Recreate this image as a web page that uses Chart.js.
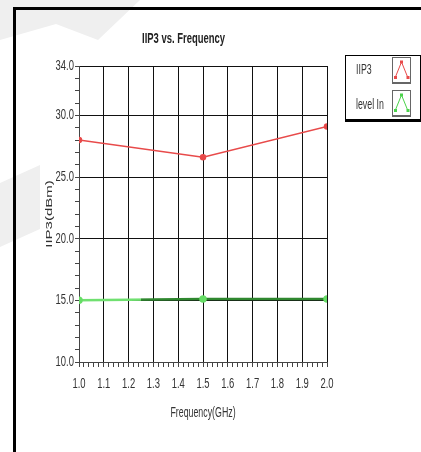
<!DOCTYPE html>
<html>
<head>
<meta charset="utf-8">
<script src="https://cdn.jsdelivr.net/npm/chart.js@4/dist/chart.umd.min.js"></script>
<style>
  html, body { margin: 0; padding: 0; background: #fff; overflow: hidden; }
  #wrap { position: relative; width: 421px; height: 452px; }
  .wm { position: absolute; background: #efefef; }
  #frame { position: absolute; left: 13px; top: 7px; width: 430px; height: 460px;
           border: 3px solid #000; box-sizing: border-box; }
  canvas { position: absolute; left: 0; top: 0; }
  #legend { position: absolute; left: 345px; top: 55px; width: 76px; height: 67px;
            border: 1px solid #000; border-bottom-width: 3px; box-sizing: border-box; background: #fff;
            font: 14px "Liberation Sans", Arial, sans-serif; color: #333; }
  .item { position: absolute; left: 10px; transform: scaleX(0.63); transform-origin: 0 0;
          white-space: nowrap; filter: grayscale(1); }
  .icon { position: absolute; left: 46px; width: 19px; height: 27px; border: 1px solid #666;
          border-bottom-width: 2px; box-sizing: border-box; }
</style>
</head>
<body>
<div id="wrap">
  <div class="wm" style="left:0;top:0;width:140px;height:40px;clip-path:polygon(0 0,100% 0,70% 100%,40% 60%,0 100%);"></div>
  <div class="wm" style="left:0;top:165px;width:40px;height:82px;clip-path:polygon(0 22%,100% 0,100% 78%,0 100%);"></div>
  <div id="frame"></div>
  <canvas id="iip3Chart" width="421" height="452"></canvas>
  <div id="legend">
    <div class="item" style="top:5px;">IIP3</div>
    <div class="icon" style="top:1px;">
      <svg width="17" height="24"><polyline points="2,20 8.5,4 15,20" fill="none" stroke="#e84a4a" stroke-width="1"/>
        <rect x="1" y="18" width="3" height="3" fill="#e84a4a"/><rect x="7" y="2.5" width="3" height="3" fill="#e84a4a"/><rect x="13.5" y="18" width="3" height="3" fill="#e84a4a"/></svg>
    </div>
    <div class="item" style="top:40px;">level In</div>
    <div class="icon" style="top:34px;">
      <svg width="17" height="24"><polyline points="2,20 8.5,4 15,20" fill="none" stroke="#4ad24a" stroke-width="1"/>
        <rect x="1" y="18" width="3" height="3" fill="#4ad24a"/><rect x="7" y="2.5" width="3" height="3" fill="#4ad24a"/><rect x="13.5" y="18" width="3" height="3" fill="#4ad24a"/></svg>
    </div>
  </div>
</div>
<script>
// data
const freqGHz = [1.0, 1.5, 2.0];
const iip3 = [28.0, 26.6, 29.1];
const levelIn = [15.0, 15.1, 15.1];
const yTickLabels = [10, 15, 20, 25, 30, 34];
const yGridLines = [15, 20, 25, 30, 34];

const sans = '"Liberation Sans", Arial, sans-serif';
const squash = 0.63;   // the original text is squeezed sideways

function toPoints(ys) {
    return freqGHz.map((x, i) => ({ x: x, y: ys[i] }));
}

// level In line turns dark green past 1.25 GHz
function greenStroke(context) {
    const chart = context.chart;
    const area = chart.chartArea;
    if (!area) return '#66dd66';
    const xs = chart.scales.x;
    const g = chart.ctx.createLinearGradient(area.left, 0, area.right, 0);
    const split = (xs.getPixelForValue(1.25) - area.left) / (area.right - area.left);
    g.addColorStop(0, '#70e070');
    g.addColorStop(split, '#70e070');
    g.addColorStop(split, '#2f872f');
    g.addColorStop(1, '#2f872f');
    return g;
}

const isTenth = v => Math.abs(v * 10 - Math.round(v * 10)) < 1e-6;

const ctx = document.getElementById('iip3Chart').getContext('2d');

// squeeze every label horizontally (in screen space) around its anchor
const baseFill = ctx.fillText;
ctx.fillText = function (text, x, y, maxWidth) {
    const m = this.getTransform();
    const p = m.transformPoint(new DOMPoint(x, y));
    this.save();
    this.setTransform(new DOMMatrix().translate(p.x, 0).scale(squash, 1).translate(-p.x, 0).multiply(m));
    if (maxWidth === undefined) baseFill.call(this, text, x, y);
    else baseFill.call(this, text, x, y, maxWidth);
    this.restore();
};

const iip3Chart = new Chart(ctx, {
    type: 'line',
    data: {
        datasets: [
            {
                label: 'IIP3',
                data: toPoints(iip3),
                borderColor: '#e84a4a',
                backgroundColor: '#e84a4a',
                borderWidth: 1.5,
                pointRadius: 2.5,
                fill: false
            },
            {
                label: 'level In',
                data: toPoints(levelIn),
                borderColor: greenStroke,
                backgroundColor: '#66dd66',
                pointBorderColor: '#66dd66',
                borderWidth: 2.5,
                pointRadius: 2.5,
                fill: false
            }
        ]
    },
    options: {
        responsive: false,
        animation: false,
        layout: { padding: { left: 40, right: 94, top: 10, bottom: 30 } },
        plugins: {
            legend: { display: false },
            tooltip: { enabled: false },
            title: {
                display: true,
                text: 'IIP3 vs. Frequency',
                color: '#222',
                font: { family: sans, size: 15, weight: 'bold' },
                padding: { top: 20, bottom: 18 }
            }
        },
        scales: {
            x: {
                type: 'linear',
                min: 1.0,
                max: 2.0,
                afterFit: s => { s.height = 60; },
                border: { color: '#444', width: 1 },
                grid: {
                    color: c => c.tick && isTenth(c.tick.value) ? '#111' : 'rgba(0,0,0,0)',
                    tickColor: '#444',
                    tickLength: 5
                },
                ticks: {
                    stepSize: 0.02,
                    maxTicksLimit: 200,
                    autoSkip: false,
                    maxRotation: 0,
                    padding: 8,
                    color: '#333',
                    font: { family: sans, size: 15 },
                    callback: v => isTenth(v) ? v.toFixed(1) : ''
                },
                title: {
                    display: true,
                    text: 'Frequency(GHz)',
                    color: '#333',
                    font: { family: sans, size: 14 },
                    padding: { top: 5, bottom: 0 }
                }
            },
            y: {
                min: 10,
                max: 34,
                afterFit: s => { s.width = 39; },
                border: { color: '#444', width: 1 },
                grid: {
                    color: c => c.tick && yGridLines.includes(c.tick.value) ? '#111' : 'rgba(0,0,0,0)',
                    tickColor: '#444',
                    tickLength: 4
                },
                ticks: {
                    stepSize: 1,
                    autoSkip: false,
                    padding: 1,
                    color: '#333',
                    font: { family: sans, size: 15 },
                    callback: v => yTickLabels.includes(v) ? v.toFixed(1) : ''
                },
                title: {
                    display: true,
                    text: 'IIP3(dBm)',
                    color: '#333',
                    font: { family: sans, size: 15 },
                    padding: { top: 0, bottom: 0 }
                }
            }
        }
    }
});
</script>
</body>
</html>
